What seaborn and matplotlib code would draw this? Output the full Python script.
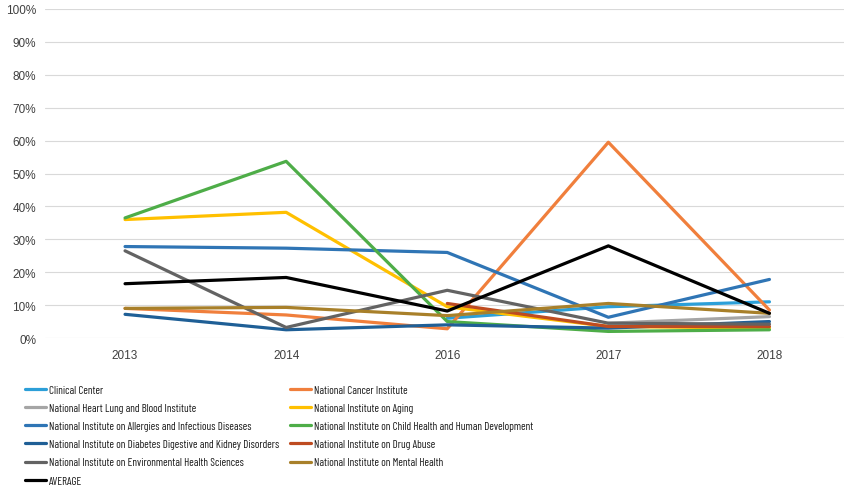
import numpy as np
import pandas as pd
import matplotlib
import matplotlib.pyplot as plt
from matplotlib.ticker import PercentFormatter
import seaborn as sns

matplotlib.use("Agg")

# data (percent)
years = ['2013', '2014', '2016', '2017', '2018']
series_names = [
    'Clinical Center',
    'National Cancer Institute',
    'National Heart Lung and Blood Institute',
    'National Institute on Aging',
    'National Institute on Allergies and Infectious Diseases',
    'National Institute on Child Health and Human Development',
    'National Institute on Diabetes Digestive and Kidney Disorders',
    'National Institute on Drug Abuse',
    'National Institute on Environmental Health Sciences',
    'National Institute on Mental Health',
    'AVERAGE',
]
clinical = [np.nan, np.nan, 6.0, 9.5, 11.0]
cancer = [9.0, 7.0, 2.8, 59.5, 8.5]
heart = [np.nan, np.nan, np.nan, 4.5, 6.5]
aging = [36.0, 38.2, 9.5, 3.5, 3.0]
allergies = [27.8, 27.3, 26.0, 6.3, 17.8]
child = [36.5, 53.7, 5.0, 2.0, 2.5]
diabetes = [7.2, 2.5, 4.0, 3.0, 5.0]
drug = [np.nan, np.nan, 10.5, 3.5, 3.5]
environ = [26.5, 3.2, 14.5, 4.5, 4.2]
mental = [9.0, 9.3, 6.8, 10.5, 7.5]
average = [16.5, 18.4, 8.2, 28.0, 7.5]

values = [clinical, cancer, heart, aging, allergies, child,
          diabetes, drug, environ, mental, average]
colors = ['#2C9FD8', '#F07F3C', '#A5A5A5', '#FFC000', '#2F75B5', '#4EAD48',
          '#1F5F96', '#BE4B20', '#636363', '#A8802A', '#000000']

rows = []
for name, vals in zip(series_names, values):
    for i, (yr, v) in enumerate(zip(years, vals)):
        rows.append({'series': name, 'pos': i, 'year': yr, 'value': v})
df = pd.DataFrame(rows).dropna()

sns.set_theme(style='white')
plt.rcParams['font.family'] = ['Liberation Sans', 'DejaVu Sans']

fig = plt.figure(figsize=(8.44, 4.89), dpi=100)
ax = fig.add_axes([44.5 / 844, 1 - 339 / 489, 805.5 / 844, 329 / 489])

sns.lineplot(data=df, x='pos', y='value', hue='series', hue_order=series_names,
             palette=dict(zip(series_names, colors)), estimator=None, sort=False,
             linewidth=2.3, ax=ax, legend=True)

ax.set_xlim(-0.5, len(years) - 0.5)
ax.set_ylim(0, 100)
ax.set_xticks(range(len(years)))
ax.set_xticklabels(years)
ax.set_yticks(np.arange(0, 101, 10))
ax.yaxis.set_major_formatter(PercentFormatter(decimals=0))
ax.yaxis.grid(True, color='#D9D9D9', linewidth=0.8)
ax.set_axisbelow(True)
for s in ax.spines.values():
    s.set_visible(False)
ax.tick_params(axis='both', length=0, labelsize=8.5, colors='#404040')
ax.tick_params(axis='x', pad=8)
ax.tick_params(axis='y', pad=6)
ax.set_xlabel('')
ax.set_ylabel('')

# legend below: two columns, row-major order
handles, labels = ax.get_legend_handles_labels()
ax.get_legend().remove()
narrow = ['Liberation Sans Narrow', 'Barlow Condensed', 'Archivo Narrow', 'DejaVu Sans']
for col, x0 in [(0, 25), (1, 290)]:
    idx = list(range(col, len(labels), 2))
    leg = fig.legend([handles[i] for i in idx], [labels[i] for i in idx],
                     loc='upper left', bbox_to_anchor=(x0 / 844, 1 - 386 / 489),
                     ncol=1, frameon=False, prop={'family': narrow, 'size': 8},
                     handlelength=1.9, handletextpad=0.25, labelspacing=0.73,
                     borderaxespad=0, borderpad=0)
    for t in leg.get_texts():
        t.set_color('#1a1a1a')

fig.savefig('out.png', dpi=100)
